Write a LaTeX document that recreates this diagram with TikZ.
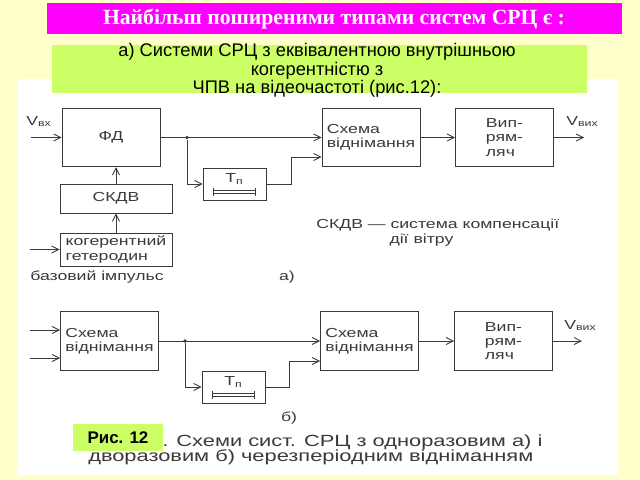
\documentclass[tikz,border=0pt]{standalone}
\usepackage{fontspec}
\setmainfont{Liberation Sans}
\newfontfamily\titlefont{Liberation Serif}
\newfontfamily\schemefont[FakeStretch = 1.35]{Liberation Sans}
\usetikzlibrary{
    arrows.meta,
    calc
}
\definecolor{bgyellow}{HTML}{FFFFCC}
\definecolor{titlemagenta}{HTML}{FF00FF}
\definecolor{boxgreen}{HTML}{CCFF66}
\definecolor{inkgray}{HTML}{3A3A3A}
\tikzset {
    scheme text/.style = {
        text = inkgray,
        font = \schemefont\fontsize{9.3}{10.2}\selectfont
    },
    line/.style = {draw = inkgray, line width = 0.6pt},
    block/.style = {line, scheme text, inner sep = 2pt},
    sub block/.style = {
        block,
        minimum width = 2.45cm,
        minimum height = 1.46cm,
        align = left
    },
    delay block/.style = {
        block,
        minimum width = 1.575cm,
        minimum height = 0.8cm
    },
    vertex/.style = {circle, fill = inkgray, inner sep = 0.9pt},
    arrowed/.style = {
        line,
        -{Straight Barb[length = 5pt, width = 5pt]}
    },
    caption text/.style = {
        text = inkgray,
        inner sep = 0pt,
        font = \schemefont\fontsize{11.5}{12}\selectfont
    }
}
% delay line symbol inside a T_p block
\newcommand{\delayline}[1]{%
    \begin{scope}[shift = {(#1.center)}]
        \draw [line] (-21, 6) -- (21, 6) (-21, 9) -- (21, 9);
        \draw [line] (-21, 3.5) -- (-21, 11.5) (21, 3.5) -- (21, 11.5);
    \end{scope}
}
\newcommand{\tp}{T\textsubscript{п}}

\begin{document}
\begin{tikzpicture}[x = 0.025cm, y = -0.025cm]
    % background and headers
    \fill [bgyellow] (0, 0) rectangle (640, 480);
    \fill [white] (18, 79) rectangle (618, 475);
    \fill [titlemagenta] (47, 3) rectangle (622, 34);
    \node (title) [text = white, font = \titlefont\bfseries\fontsize{15.4}{18}\selectfont]
        at (334, 19) {Найбільш поширеними типами систем СРЦ є :};
    \fill [boxgreen] (52, 45) rectangle (587, 93);
    \node (subtitle) [align = center, inner sep = 0pt, font = \fontsize{13}{13}\selectfont]
        at (317, 70.5) {а) Системи СРЦ з еквівалентною внутрішньою\\когерентністю з\\ЧПВ на відеочастоті (рис.12):};

    % scheme a)
    \node (fd) [sub block, align = center] at (111, 137.5) {ФД};
    \node (skdv) [block, minimum width = 2.8cm, minimum height = 0.725cm] at (116, 198.5) {СКДВ};
    \node (het) [block, minimum width = 2.8cm, minimum height = 0.825cm, align = left]
        at (116, 249.5) {когерентний\\гетеродин};
    \node (tpa) [delay block, label = {[scheme text, anchor = north, yshift = -1pt]north:\tp}]
        at (234.5, 184) {};
    \node (suba) [sub block] at (371, 137.5) {Схема\\віднімання};
    \node (recta) [sub block] at (504.5, 137.5) {Вип-\\рям-\\ляч};
    \delayline{tpa}

    \coordinate (vina) at (31, 137.5);
    \coordinate (basea) at (30, 249.5);
    \coordinate (ka) at (291, 157);
    \coordinate (vouta) at (584, 137.5);
    \node (ja) [vertex] at (187, 137.5) {};

    \draw [arrowed] (vina) -- (fd);
    \draw [arrowed] (basea) -- (het);
    \draw [arrowed] (het) -- (skdv);
    \draw [arrowed] (skdv.north) -- (skdv.north |- fd.south);
    \draw [arrowed] (fd) -- (suba);
    \draw [arrowed] (ja) |- (tpa);
    \draw [arrowed] (tpa.east) -| (ka) -- (ka -| suba.west);
    \draw [arrowed] (suba) -- (recta);
    \draw [arrowed] (recta) -- (vouta);

    \node (vinlabel) [scheme text, anchor = south west, inner sep = 0pt] at (26, 127) {V\textsubscript{вх}};
    \node (voutlabela) [scheme text, anchor = south west, inner sep = 0pt] at (566, 127) {V\textsubscript{вих}};
    \node (baselabel) [scheme text, anchor = west, inner sep = 0pt] at (30, 277) {базовий імпульс};
    \node (taga) [scheme text] at (287, 277) {а)};
    \node (legend) [scheme text, anchor = north west, inner sep = 0pt, align = left]
        at (316, 219) {СКДВ — система компенсації\\\hspace{5.6em}дії вітру};

    % scheme b)
    \node (subb) [sub block] at (109.5, 341) {Схема\\віднімання};
    \node (tpb) [delay block, label = {[scheme text, anchor = north, yshift = -1pt]north:\tp}]
        at (233.5, 387) {};
    \node (subc) [sub block] at (369.5, 341) {Схема\\віднімання};
    \node (rectb) [sub block] at (503.5, 341) {Вип-\\рям-\\ляч};
    \delayline{tpb}

    \coordinate (inb) at (30, 330);
    \coordinate (inc) at (30, 358);
    \coordinate (kb) at (289, 361);
    \coordinate (voutb) at (582, 341);
    \node (jb) [vertex] at (185, 341) {};

    \draw [arrowed] (inb) -- (inb -| subb.west);
    \draw [arrowed] (inc) -- (inc -| subb.west);
    \draw [arrowed] (subb) -- (subc);
    \draw [arrowed] (jb) |- (tpb);
    \draw [arrowed] (tpb.east) -| (kb) -- (kb -| subc.west);
    \draw [arrowed] (subc) -- (rectb);
    \draw [arrowed] (rectb) -- (voutb);

    \node (voutlabelb) [scheme text, anchor = south west, inner sep = 0pt] at (564, 331) {V\textsubscript{вих}};
    \node (tagb) [scheme text] at (289, 418) {б)};

    % figure caption
    \node (capa) [caption text, anchor = west] at (162, 442) {. Схеми сист. СРЦ з одноразовим а) і};
    \node (capb) [caption text, anchor = west] at (88, 457) {дворазовим б) черезперіодним відніманням};
    \node (fig) [fill = boxgreen, minimum width = 2.25cm, minimum height = 0.675cm,
        font = \bfseries\fontsize{12}{14}\selectfont] at (118, 437.5) {Рис. 12};
\end{tikzpicture}
\end{document}
